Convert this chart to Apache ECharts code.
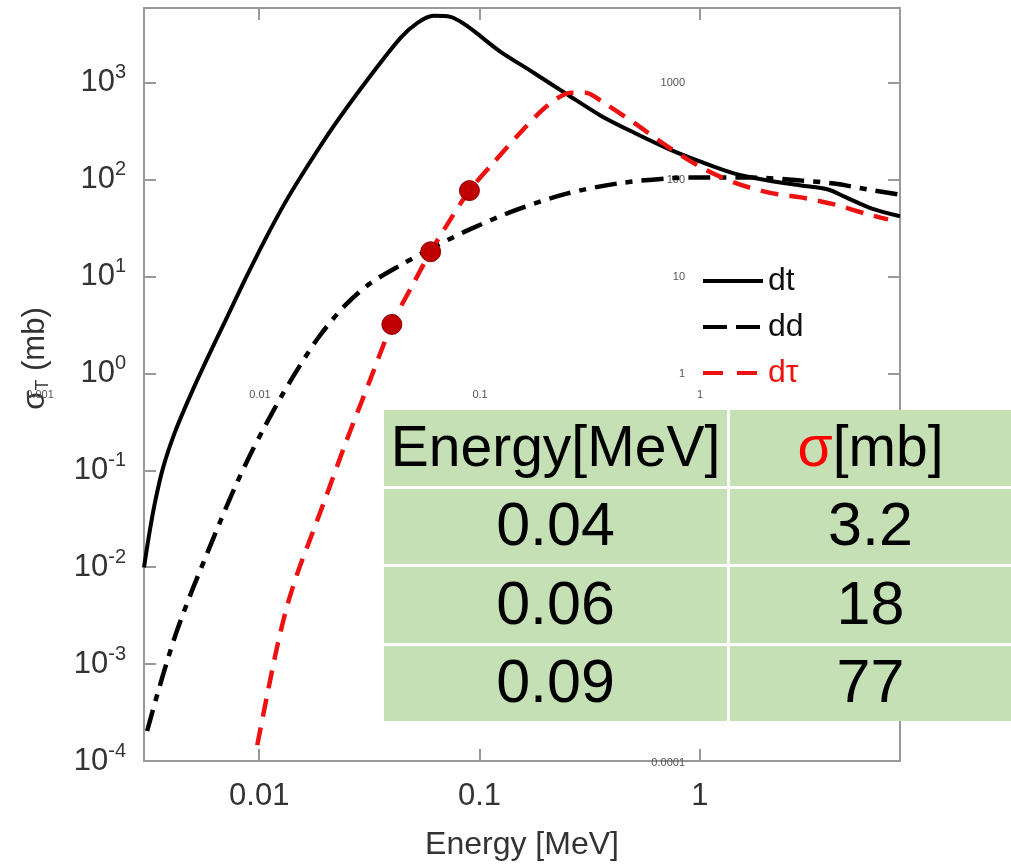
<!DOCTYPE html>
<html>
<head>
<meta charset="utf-8">
<script src="https://cdn.jsdelivr.net/npm/echarts@6/dist/echarts.min.js"></script>
<style>
  html, body { margin: 0; padding: 0; background: #fff; }
  #chart { width: 1011px; height: 866px; }
</style>
</head>
<body>
<div id="chart"></div>
<script type="text/javascript">
// dt : solid black
var dtEnergy = [0.0030, 0.00316, 0.00337, 0.00366, 0.00415, 0.00486, 0.0058, 0.00701, 0.00864, 0.01065, 0.01313, 0.01619, 0.0217, 0.031, 0.0438, 0.0523, 0.0618, 0.0738, 0.0864, 0.1032, 0.1246, 0.176, 0.251, 0.355, 0.501, 0.715, 1.0, 1.427, 2.038, 2.878, 3.82, 4.61, 5.99, 8.1];
var dtSigma  = [0.00993, 0.0212, 0.0474, 0.106, 0.249, 0.586, 1.41, 3.47, 9.38, 24.2, 58.2, 127, 352, 1074, 2905, 4150, 4898, 4780, 3955, 2905, 2084, 1268, 752, 457, 306, 209, 154, 116, 98, 87, 79, 65.5, 50.5, 41.8];
// dd : dash-dot black
var ddEnergy = [0.0031, 0.00344, 0.00382, 0.00424, 0.00486, 0.00568, 0.00665, 0.00778, 0.0091, 0.01065, 0.01272, 0.01536, 0.01893, 0.0246, 0.032, 0.0438, 0.0618, 0.0882, 0.1489, 0.251, 0.424, 0.715, 1.0, 1.705, 2.878, 4.07, 5.8, 8.1];
var ddSigma  = [0.000204, 0.000478, 0.00107, 0.00223, 0.00512, 0.0123, 0.0295, 0.0678, 0.1445, 0.288, 0.6, 1.22, 2.49, 5.06, 8.53, 13.1, 20.0, 29.9, 49.3, 72.0, 91.2, 103, 105, 105, 98, 91, 79, 70];
// d-tau : red dashed
var dtauEnergy = [0.0098, 0.01087, 0.0121, 0.0134, 0.0149, 0.01706, 0.01995, 0.0246, 0.032, 0.04, 0.0496, 0.06, 0.0738, 0.09, 0.1158, 0.149, 0.1893, 0.2239, 0.2593, 0.3032, 0.355, 0.501, 0.715, 1.0, 1.427, 2.038, 2.878, 4.07, 5.8, 7.15];
var dtauSigma  = [0.000146, 0.00048, 0.00156, 0.0040, 0.0086, 0.0197, 0.0509, 0.1875, 0.877, 3.2, 8.13, 18, 38.9, 77, 150, 285, 503, 684, 789, 789, 653, 387, 219, 136, 93.5, 73.8, 65.5, 55.5, 43.8, 38.9];
// marked points (same as the table)
var pointEnergy = [0.04, 0.06, 0.09];
var pointSigma  = [3.2, 18, 77];
var tableHeader = ['Energy[MeV]', 'σ[mb]'];

var FONT = '"Liberation Sans", Arial, sans-serif';

function pairs(xs, ys) {
  var out = [];
  for (var i = 0; i < xs.length; i++) out.push([xs[i], ys[i]]);
  return out;
}
function plainNum(v) {
  return String(+(+v).toPrecision(6));
}

var chart = echarts.init(document.getElementById('chart'), null, { renderer: 'canvas' });

// table drawn as graphic (values from arrays above)
var colX = [384, 730];
var colW = [343, 281];
var rowY = [410, 489, 567, 646];
var rowH = [76, 75, 76, 75];
var cells = [{
  type: 'rect', z: 99,
  shape: { x: 384, y: 410, width: 627, height: 311 },
  style: { fill: '#fff' }
}];
var rows = [[tableHeader[0], '{r|σ}[mb]']];
for (var i = 0; i < pointEnergy.length; i++) {
  rows.push([plainNum(pointEnergy[i]), plainNum(pointSigma[i])]);
}
for (var r = 0; r < rows.length; r++) {
  for (var c = 0; c < 2; c++) {
    cells.push({
      type: 'rect', z: 100,
      shape: { x: colX[c], y: rowY[r], width: colW[c], height: rowH[r] },
      style: { fill: '#c5e0b4' }
    });
    cells.push({
      type: 'text', z: 101,
      x: colX[c] + colW[c] / 2, y: rowY[r] + rowH[r] / 2 + 2,
      style: {
        text: rows[r][c],
        font: (r === 0 ? 57 : 61) + 'px ' + FONT,
        fill: '#000',
        align: 'center', verticalAlign: 'middle',
        rich: { r: { fill: '#ff0000', font: '57px ' + FONT } }
      }
    });
  }
}

var frameColor = '#999';

var option = {
  animation: false,
  backgroundColor: '#fff',
  grid: [
    { left: 144, right: 111, top: 8, bottom: 103, show: false },
    { left: 40, right: 111, top: 8, bottom: 103, show: false }
  ],
  legend: {
    data: [
      { name: 'dt', lineStyle: { type: 'solid', width: 4 } },
      { name: 'dd', lineStyle: { type: [24, 9], width: 4 } },
      { name: 'dτ', textStyle: { color: '#ee1111' }, lineStyle: { type: [20, 14], width: 4 } }
    ],
    orient: 'vertical',
    left: 696, top: 260,
    itemWidth: 60, itemHeight: 14, itemGap: 14,
    itemStyle: { opacity: 0 },
    textStyle: { fontSize: 32, color: '#111', fontFamily: FONT }
  },
  xAxis: [
    {
      type: 'log', gridIndex: 0, min: 0.003, max: 8.1, position: 'bottom',
      name: 'Energy [MeV]', nameLocation: 'middle', nameGap: 68,
      nameTextStyle: { fontSize: 32, color: '#333', fontFamily: FONT },
      axisLine: { onZero: false, lineStyle: { color: frameColor, width: 2 } },
      axisTick: { inside: true, length: 12, lineStyle: { color: frameColor, width: 2 } },
      axisLabel: { margin: 20, fontSize: 31, color: '#333', fontFamily: FONT,
        showMinLabel: false, showMaxLabel: false, formatter: plainNum },
      splitLine: { show: false }, minorTick: { show: false }
    },
    {
      type: 'log', gridIndex: 0, min: 0.003, max: 8.1, position: 'top',
      axisLine: { onZero: false, lineStyle: { color: frameColor, width: 2 } },
      axisTick: { inside: true, length: 12, lineStyle: { color: frameColor, width: 2 } },
      axisLabel: { show: false }, splitLine: { show: false }
    },
    {
      // stray small labels
      type: 'log', gridIndex: 1, min: 0.001, max: 8.1, position: 'bottom', offset: -388,
      axisLine: { show: false, onZero: false }, axisTick: { show: false },
      axisLabel: { margin: 14, fontSize: 11, color: '#555', fontFamily: FONT,
        showMinLabel: true, showMaxLabel: false, formatter: plainNum },
      splitLine: { show: false }
    }
  ],
  yAxis: [
    {
      type: 'log', gridIndex: 0, min: 0.0001, max: 5900, position: 'left',
      name: '{a|σ}{b|T}{a| (mb)}', nameLocation: 'middle', nameGap: 92,
      nameTextStyle: {
        color: '#333', fontFamily: FONT, padding: [0, 0, 0, 52],
        rich: {
          a: { fontSize: 31, color: '#333', fontFamily: FONT },
          b: { fontSize: 18, color: '#333', fontFamily: FONT, padding: [16, 0, 0, 0] }
        }
      },
      axisLine: { onZero: false, lineStyle: { color: frameColor, width: 2 } },
      axisTick: { inside: true, length: 12, lineStyle: { color: frameColor, width: 2 } },
      axisLabel: {
        margin: 18, showMaxLabel: false, showMinLabel: true,
        formatter: function (v) {
          return '{b|10}{s|' + Math.round(Math.log10(v)) + '}';
        },
        rich: {
          b: { fontSize: 31, color: '#333', fontFamily: FONT },
          s: { fontSize: 20, color: '#333', fontFamily: FONT, padding: [0, 0, 20, 0] }
        }
      },
      splitLine: { show: false }, minorTick: { show: false }
    },
    {
      type: 'log', gridIndex: 0, min: 0.0001, max: 5900, position: 'right',
      axisLine: { onZero: false, lineStyle: { color: frameColor, width: 2 } },
      axisTick: { inside: true, length: 12, lineStyle: { color: frameColor, width: 2 } },
      axisLabel: { show: false }, splitLine: { show: false }
    },
    {
      type: 'log', gridIndex: 1, min: 0.0001, max: 5900, position: 'left', offset: -660,
      axisLine: { show: false, onZero: false }, axisTick: { show: false },
      axisLabel: { margin: 15, fontSize: 11, color: '#555', fontFamily: FONT,
        showMinLabel: true, showMaxLabel: false, formatter: plainNum },
      splitLine: { show: false }
    }
  ],
  series: [
    {
      name: 'dt', type: 'line', xAxisIndex: 0, yAxisIndex: 0,
      data: pairs(dtEnergy, dtSigma), symbol: 'none', smooth: 0.3,
      lineStyle: { color: '#000', width: 4 }, itemStyle: { color: '#000' }
    },
    {
      name: 'dd', type: 'line', xAxisIndex: 0, yAxisIndex: 0,
      data: pairs(ddEnergy, ddSigma), symbol: 'none', smooth: 0.3,
      lineStyle: { color: '#000', width: 4.5, type: [22, 9, 7, 9] }, itemStyle: { color: '#000' }
    },
    {
      name: 'dτ', type: 'line', xAxisIndex: 0, yAxisIndex: 0,
      data: pairs(dtauEnergy, dtauSigma), symbol: 'none', smooth: 0.3,
      lineStyle: { color: '#ee1111', width: 4.5, type: [18, 11] }, itemStyle: { color: '#ee1111' }
    },
    {
      name: 'points', type: 'scatter', xAxisIndex: 0, yAxisIndex: 0, z: 5,
      data: pairs(pointEnergy, pointSigma), symbolSize: 20,
      itemStyle: { color: '#c00000', borderColor: '#8b0000', borderWidth: 1, opacity: 1 }
    }
  ],
  graphic: cells
};

chart.setOption(option);
</script>
</body>
</html>
